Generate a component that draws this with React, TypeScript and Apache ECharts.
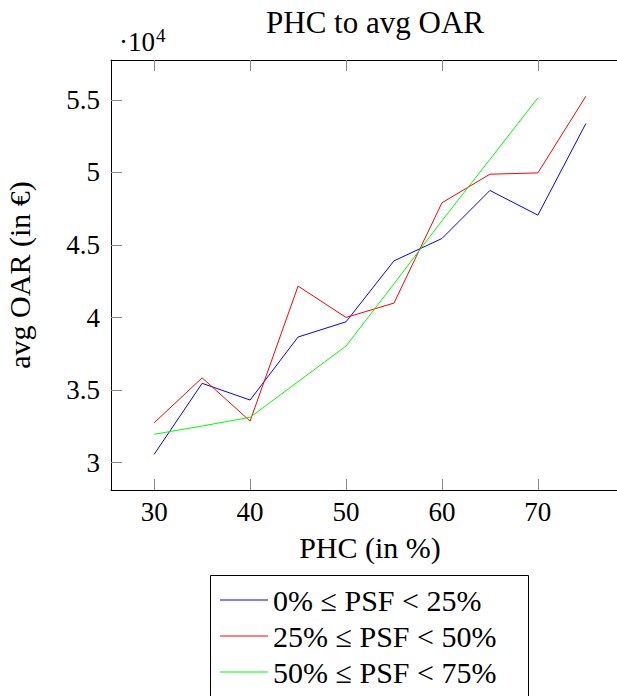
import React, { useEffect, useRef } from "react";
import * as echarts from "echarts";

const phc = [30, 35, 40, 45, 50, 55, 60, 65, 70, 75];
const psf0to25 = [30580, 35470, 34320, 38660, 39710, 43910, 45450, 48760, 47060, 53370];
const psf25to50 = [32750, 35850, 32870, 42170, 40010, 41000, 47910, 49880, 49970, 55250];
const psf50to75 = [31960, 32530, 33130, 35580, 38040, 42330, 46670, 50900, 55140];
const seriesNames = ["0% ≤ PSF < 25%", "25% ≤ PSF < 50%", "50% ≤ PSF < 75%"];
const xTicks = [30, 40, 50, 60, 70];
const yTicks = [30000, 35000, 40000, 45000, 50000, 55000];

const FONT = "'Liberation Serif', 'DejaVu Serif', serif";

export default function App() {
  const ref = useRef<HTMLDivElement>(null);
  useEffect(() => {
    if (!ref.current) return;
    const chart = echarts.init(ref.current, undefined, { renderer: "svg" });
    const pair = (ys: number[]) => ys.map((y, i) => [phc[i], y]);
    const xMin = 25.5, xMax = 79.5, yMin = 28120, yMax = 57750;
    const tickStyle = { show: true, inside: true, length: 11, lineStyle: { color: "#8a8a8a", width: 1 } };
    const lineStyle = { show: true, lineStyle: { color: "#000", width: 1 } };
    chart.setOption({
      animation: false,
      textStyle: { fontFamily: FONT },
      title: {
        text: "PHC to avg OAR",
        left: 370,
        textAlign: "center",
        top: 2,
        textStyle: { fontFamily: FONT, fontSize: 31, fontWeight: "normal", color: "#000" },
      },
      grid: { left: 111, top: 60, right: 11, bottom: 260, containLabel: false, outerBoundsMode: "none" },
      legend: {
        orient: "vertical",
        left: 210,
        top: 575,
        data: seriesNames,
        icon: "rect",
        itemWidth: 48,
        itemHeight: 1,
        itemGap: 6,
        itemStyle: { borderWidth: 0 },
        padding: [10, 12, 13, 10],
        borderWidth: 0,
        textStyle: { fontFamily: FONT, fontSize: 30, color: "#000", lineHeight: 30 },
      },
      xAxis: [
        {
          type: "value",
          min: xMin,
          max: xMax,
          name: "PHC (in %)",
          nameLocation: "middle",
          nameGap: 42,
          nameTextStyle: { fontFamily: FONT, fontSize: 30, color: "#000" },
          axisLine: lineStyle,
          axisTick: { ...tickStyle, customValues: xTicks },
          axisLabel: { customValues: xTicks, margin: 8, fontFamily: FONT, fontSize: 27, color: "#000" },
          splitLine: { show: false },
        },
        {
          type: "value",
          position: "top",
          min: xMin,
          max: xMax,
          axisLine: lineStyle,
          axisTick: { ...tickStyle, customValues: xTicks },
          axisLabel: { show: false },
          splitLine: { show: false },
        },
      ],
      yAxis: [
        {
          type: "value",
          min: yMin,
          max: yMax,
          name: "avg OAR (in €)",
          nameLocation: "middle",
          nameGap: 77,
          nameTextStyle: { fontFamily: FONT, fontSize: 30, color: "#000" },
          axisLine: lineStyle,
          axisTick: { ...tickStyle, customValues: yTicks },
          axisLabel: {
            customValues: yTicks,
            margin: 11,
            fontFamily: FONT,
            fontSize: 27,
            color: "#000",
            formatter: (v: number) => String(+(v / 10000).toFixed(1)),
          },
          splitLine: { show: false },
        },
        {
          type: "value",
          position: "right",
          min: yMin,
          max: yMax,
          axisLine: lineStyle,
          axisTick: { ...tickStyle, customValues: yTicks },
          axisLabel: { show: false },
          splitLine: { show: false },
        },
      ],
      graphic: [
        {
          type: "text",
          left: 119,
          top: 26,
          style: {
            text: "·10{sup|4}",
            fontFamily: FONT,
            fontSize: 27,
            fill: "#000",
            rich: { sup: { fontFamily: FONT, fontSize: 19, verticalAlign: "top", padding: [0, 0, 12, 1] } },
          },
        },
        {
          type: "rect",
          shape: { x: 210.5, y: 575.5, width: 318, height: 140 },
          style: { fill: "none", stroke: "#000", lineWidth: 1 },
          silent: true,
        },
      ],
      series: [
        { name: seriesNames[0], type: "line", data: pair(psf0to25), showSymbol: false, lineStyle: { color: "#0000ff", width: 1 }, itemStyle: { color: "#0000ff" } },
        { name: seriesNames[1], type: "line", data: pair(psf25to50), showSymbol: false, lineStyle: { color: "#ff0000", width: 1 }, itemStyle: { color: "#ff0000" } },
        { name: seriesNames[2], type: "line", data: pair(psf50to75), showSymbol: false, lineStyle: { color: "#00ff00", width: 1 }, itemStyle: { color: "#00ff00" } },
      ],
    });
    return () => chart.dispose();
  }, []);
  return (
    <div style={{ position: "absolute", left: 0, top: 0, width: 617, height: 696, overflow: "hidden", background: "#fff" }}>
      <div ref={ref} style={{ width: 640, height: 750 }} />
    </div>
  );
}
